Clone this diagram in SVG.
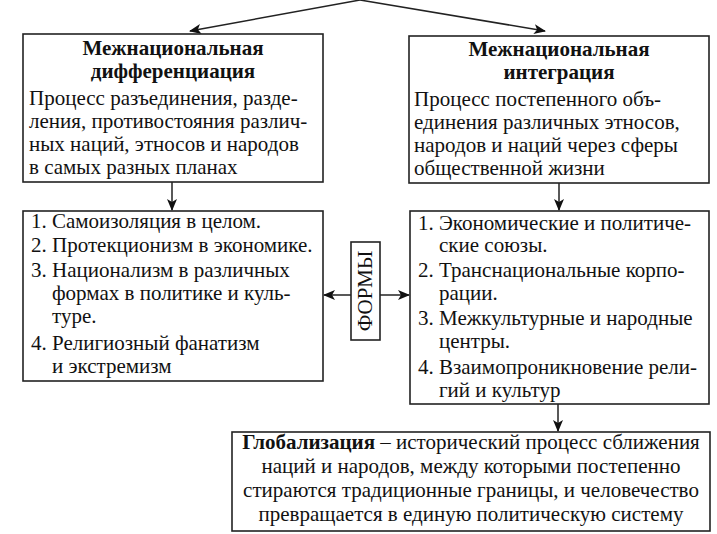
<svg xmlns="http://www.w3.org/2000/svg" width="717" height="534" viewBox="0 0 717 534">
<style>
.box{fill:#fff;stroke:#222;stroke-width:1.6}
.t{font-family:"Liberation Serif","Times New Roman",serif;font-size:21px;fill:#111}
.b{font-weight:bold}
.c{text-anchor:middle}
.ln{stroke:#222;stroke-width:1.5;fill:none;marker-end:url(#ah)}
</style>
<defs>
<marker id="ah" markerWidth="12" markerHeight="10" refX="11" refY="5" orient="auto" markerUnits="userSpaceOnUse">
<path d="M0,0 L12,5 L0,10 L3,5 Z" fill="#111"/>
</marker>
</defs>
<rect width="717" height="534" fill="#fff"/>
<g id="connectors">
<line class="ln" x1="360" y1="0" x2="190" y2="31"/>
<line class="ln" x1="360" y1="0" x2="545" y2="31"/>
<line class="ln" x1="172" y1="182" x2="172" y2="210"/>
<line class="ln" x1="559" y1="183" x2="559" y2="210"/>
<line class="ln" x1="351" y1="295" x2="324" y2="295"/>
<line class="ln" x1="380" y1="295" x2="409" y2="295"/>
<line class="ln" x1="558" y1="404" x2="558" y2="431"/>
</g>
<g id="diff">
<rect class="box" x="23" y="34" width="300" height="148"/>
<text class="t b c" x="173" y="55">Межнациональная</text>
<text class="t b c" x="173" y="78">дифференциация</text>
<text class="t" x="29" y="105">Процесс разъединения, разде-</text>
<text class="t" x="29" y="128">ления, противостояния различ-</text>
<text class="t" x="29" y="151">ных наций, этносов и народов</text>
<text class="t" x="29" y="174">в самых разных планах</text>
</g>
<g id="integr">
<rect class="box" x="409" y="36" width="300" height="147"/>
<text class="t b c" x="559" y="56">Межнациональная</text>
<text class="t b c" x="559" y="79">интеграция</text>
<text class="t" x="414" y="106">Процесс постепенного объ-</text>
<text class="t" x="414" y="129">единения различных этносов,</text>
<text class="t" x="414" y="152">народов и наций через сферы</text>
<text class="t" x="414" y="175">общественной жизни</text>
</g>
<g id="forms-left">
<rect class="box" x="23" y="211" width="300" height="170"/>
<text class="t" x="31" y="228">1.</text><text class="t" x="52" y="228">Самоизоляция в целом.</text>
<text class="t" x="31" y="252">2.</text><text class="t" x="52" y="252">Протекционизм в экономике.</text>
<text class="t" x="31" y="277">3.</text><text class="t" x="52" y="277">Национализм в различных</text>
<text class="t" x="52" y="300">формах в политике и куль-</text>
<text class="t" x="52" y="323">туре.</text>
<text class="t" x="31" y="350">4.</text><text class="t" x="52" y="350">Религиозный фанатизм</text>
<text class="t" x="52" y="373">и экстремизм</text>
</g>
<g id="forms">
<rect class="box" x="351" y="242" width="29" height="98"/>
<text class="t c" transform="translate(372,291) rotate(-90)" x="0" y="0">ФОРМЫ</text>
</g>
<g id="forms-right">
<rect class="box" x="410" y="211" width="299" height="193"/>
<text class="t" x="418" y="230">1.</text><text class="t" x="439" y="230">Экономические и политиче-</text>
<text class="t" x="439" y="252">ские союзы.</text>
<text class="t" x="418" y="277">2.</text><text class="t" x="439" y="277">Транснациональные корпо-</text>
<text class="t" x="439" y="300">рации.</text>
<text class="t" x="418" y="325">3.</text><text class="t" x="439" y="325">Межкультурные и народные</text>
<text class="t" x="439" y="348">центры.</text>
<text class="t" x="418" y="374">4.</text><text class="t" x="439" y="374">Взаимопроникновение рели-</text>
<text class="t" x="439" y="397">гий и культур</text>
</g>
<g id="global">
<rect class="box" x="232" y="432" width="478" height="99"/>
<text class="t c" x="471" y="449"><tspan class="b">Глобализация</tspan> – исторический процесс сближения</text>
<text class="t c" x="471" y="473">наций и народов, между которыми постепенно</text>
<text class="t c" x="471" y="497">стираются традиционные границы, и человечество</text>
<text class="t c" x="471" y="521">превращается в единую политическую систему</text>
</g>
</svg>
